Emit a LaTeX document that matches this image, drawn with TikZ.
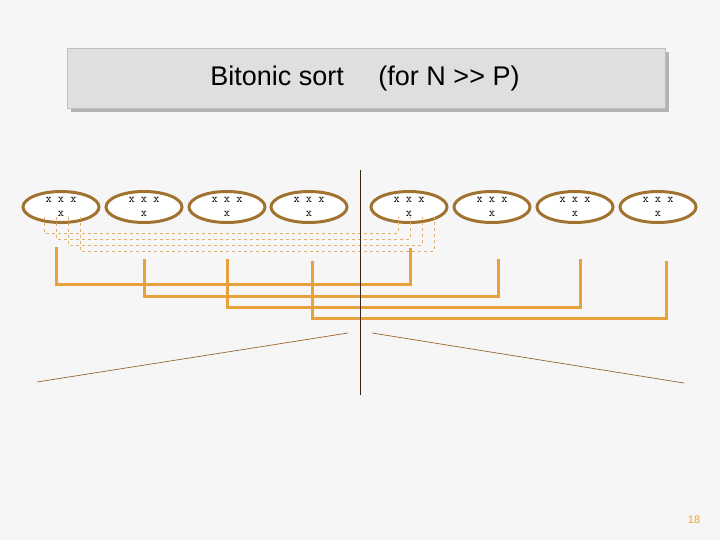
\documentclass[tikz,border=0pt]{standalone}
\usepackage{fontspec}
\setmainfont{Liberation Sans}
\usetikzlibrary{shapes.geometric}
\definecolor{ebrown}{HTML}{A07430}
\definecolor{oline}{HTML}{E8A23C}
\definecolor{dline}{HTML}{E0B070}
\begin{document}
\begin{tikzpicture}[x=1pt,y=-1pt,
 el/.style={draw=ebrown,line width=3pt,ellipse,minimum width=76pt,minimum height=31pt,fill=white,inner sep=0pt},
 dl/.style={draw=dline,dashed,line width=0.8pt},
 ol/.style={draw=oline,line width=3pt},
 tl/.style={draw=brown!80!black,line width=0.7pt}]
\fill[gray!7] (0,0) rectangle (720,540);
\useasboundingbox (0,0) rectangle (720,540);
\fill[gray!60] (71,52) rectangle (669,112);
\node[draw=gray!50,line width=1pt,fill=gray!25,minimum width=598pt,minimum height=60pt,anchor=north west,inner sep=0pt] (title) at (67,48) {};
\node[font=\fontsize{27}{30}\selectfont] (tt) at (365,79) {Bitonic sort\quad\ (for N {>}{>} P)};
\foreach \i/\x in {1/61,2/144,3/227,4/309,5/409,6/492,7/575,8/658}{
 \node[el] (e\i) at (\x,207) {};
 \node[font=\ttfamily\fontsize{12}{14}\selectfont,align=center] (t\i) at (\x,207) {x x x\\x};
}
\foreach \a/\b/\y in {44/398/233,56/410/239,68/422/245,80/434/251}{
 \coordinate (da\a) at (\a,217); \coordinate (db\a) at (\b,217);
 \draw[dl] (da\a) |- (\b,\y) -- (db\a);
}
\foreach \a/\b/\t/\y/\u in {56/410/247/284/248,144/498/259/296/259,227/580/259/307/259,312/666/261/318/261}{
 \coordinate (sa\a) at (\a,\t); \coordinate (sb\a) at (\b,\u);
 \draw[ol] (sa\a) |- (\b,\y) -- (sb\a);
}
\coordinate (v1) at (360,170); \coordinate (v2) at (360,395);
\draw[tl,draw=black!70!brown] (v1) -- (v2);
\coordinate (l1) at (37,382); \coordinate (l2) at (348,333);
\coordinate (r1) at (372,333); \coordinate (r2) at (684,383);
\draw[tl] (l1) -- (l2); \draw[tl] (r1) -- (r2);
\node[text=oline,font=\fontsize{11}{11}\selectfont] (pg) at (694,520) {18};
\end{tikzpicture}
\end{document}
